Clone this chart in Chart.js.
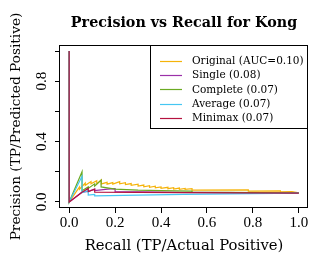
<!DOCTYPE html>
<html><head><meta charset="utf-8">
<script src="https://cdn.jsdelivr.net/npm/chart.js@4.4.1/dist/chart.umd.min.js"></script>
<style>html,body{margin:0;padding:0;background:#fff;}#wrap{width:310px;height:256px;}</style>
</head><body><div id="wrap"><canvas id="c" width="310" height="256"></canvas></div>
<script>
const titleText = 'Precision vs Recall for Kong';
const xLabel = 'Recall (TP/Actual Positive)';
const yLabel = 'Precision (TP/Predicted Positive)';
const xTicks = [0, 0.2, 0.4, 0.6, 0.8, 1.0];
const xTickLabels = ['0.0', '0.2', '0.4', '0.6', '0.8', '1.0'];
const yTicks = [0, 0.2, 0.4, 0.6, 0.8, 1.0];
const yTickLabels = ['0.0', '', '0.4', '', '0.8', ''];

const seriesNames = ['Original (AUC=0.10)', 'Single (0.08)', 'Complete (0.07)', 'Average (0.07)', 'Minimax (0.07)'];
const seriesColors = ['#F5B30A', '#9B30A8', '#6BAA22', '#45C6F2', '#B5123F'];

const originalRecall = [0, 0, 0.045, 0.045, 0.07, 0.07, 0.095, 0.095, 0.12, 0.12, 0.14, 0.14, 0.165, 0.165, 0.19, 0.19, 0.22, 0.22, 0.245, 0.245, 0.27, 0.27, 0.3, 0.3, 0.325, 0.325, 0.35, 0.35, 0.375, 0.375, 0.4, 0.4, 0.43, 0.43, 0.455, 0.455, 0.48, 0.48, 0.505, 0.505, 0.535, 0.535, 0.78, 0.78, 0.92, 0.92, 0.97, 1.0];
const originalPrecision = [1, 0, 0.10, 0.085, 0.125, 0.11, 0.135, 0.12, 0.14, 0.12, 0.147, 0.12, 0.13, 0.118, 0.128, 0.118, 0.135, 0.12, 0.128, 0.115, 0.122, 0.11, 0.118, 0.105, 0.112, 0.10, 0.108, 0.097, 0.104, 0.094, 0.10, 0.09, 0.097, 0.088, 0.094, 0.085, 0.092, 0.084, 0.09, 0.083, 0.088, 0.078, 0.08, 0.072, 0.074, 0.067, 0.068, 0.06];

const singleRecall = [0, 0, 0.056, 0.083, 0.111, 0.111, 0.139, 0.167, 0.2, 0.2, 0.5, 1.0];
const singlePrecision = [1, 0, 0.065, 0.07, 0.085, 0.075, 0.08, 0.085, 0.088, 0.068, 0.064, 0.06];

const completeRecall = [0, 0, 0.056, 0.056, 0.083, 0.083, 0.111, 0.111, 0.139, 0.139, 0.2, 0.3, 0.4, 0.535, 0.535, 1.0];
const completePrecision = [1, 0, 0.2, 0.075, 0.1, 0.09, 0.12, 0.105, 0.145, 0.1, 0.085, 0.078, 0.075, 0.072, 0.065, 0.06];

const averageRecall = [0, 0, 0.056, 0.056, 0.083, 0.083, 0.111, 0.111, 0.3, 0.5, 0.7, 1.0];
const averagePrecision = [1, 0, 0.17, 0.062, 0.075, 0.045, 0.05, 0.04, 0.045, 0.05, 0.053, 0.058];

const minimaxRecall = [0, 0, 0.056, 0.083, 0.083, 0.111, 0.111, 0.5, 1.0];
const minimaxPrecision = [1, 0, 0.065, 0.09, 0.068, 0.085, 0.065, 0.062, 0.058];

const recalls = [originalRecall, singleRecall, completeRecall, averageRecall, minimaxRecall];
const precisions = [originalPrecision, singlePrecision, completePrecision, averagePrecision, minimaxPrecision];

const datasets = seriesNames.map((name, i) => ({
  label: name,
  data: recalls[i].map((r, j) => ({x: r, y: precisions[i][j]})),
  showLine: true,
  borderColor: seriesColors[i],
  backgroundColor: seriesColors[i],
  borderWidth: 1.2,
  pointRadius: 0,
  fill: false,
  tension: 0,
  order: seriesNames.length - i
}));

const tickFont = {family: 'Liberation Serif', size: 15};
const xLabelFont = {family: 'DejaVu Serif', size: 14.8};
const yLabelFont = {family: 'DejaVu Serif', size: 13.7};

const overlay = {
  id: 'overlay',
  afterDraw(chart) {
    const ctx = chart.ctx;
    const a = chart.chartArea;
    ctx.save();
    ctx.strokeStyle = '#000';
    ctx.lineWidth = 1;
    ctx.strokeRect(Math.round(a.left) - 0.5, Math.round(a.top) + 0.5, Math.round(a.right) - Math.round(a.left), Math.round(a.bottom) - Math.round(a.top) - 1);
    const ys = chart.scales.y;
    ctx.fillStyle = '#000';
    ctx.font = tickFont.size + 'px "' + tickFont.family + '"';
    ctx.textAlign = 'center';
    ctx.textBaseline = 'middle';
    yTicks.forEach((v, i) => {
      if (!yTickLabels[i]) return;
      const py = ys.getPixelForValue(v);
      ctx.save();
      ctx.translate(42, py);
      ctx.rotate(-Math.PI / 2);
      ctx.fillText(yTickLabels[i], 0, 0);
      ctx.restore();
    });
    ctx.font = 'bold 14.3px "DejaVu Serif"';
    ctx.textBaseline = 'middle';
    ctx.fillText(titleText, (a.left + a.right) / 2, 23);
    const lx0 = 150, ly0 = Math.round(a.top), lx1 = Math.round(a.right), ly1 = 129;
    ctx.fillStyle = '#fff';
    ctx.fillRect(lx0, ly0, lx1 - lx0, ly1 - ly0);
    ctx.strokeStyle = '#000';
    ctx.strokeRect(lx0 + 0.5, ly0 + 0.5, lx1 - lx0 - 1, ly1 - ly0 - 1);
    ctx.font = '10.5px "DejaVu Serif"';
    ctx.textAlign = 'left';
    seriesNames.forEach((name, i) => {
      const y = 61 + i * 14.2;
      ctx.strokeStyle = seriesColors[i];
      ctx.lineWidth = 1.2;
      ctx.beginPath();
      ctx.moveTo(160, Math.round(y) + 0.5);
      ctx.lineTo(182, Math.round(y) + 0.5);
      ctx.stroke();
      ctx.fillStyle = '#000';
      ctx.fillText(name, 192, y + 0.5);
    });
    ctx.restore();
  }
};

new Chart(document.getElementById('c'), {
  type: 'scatter',
  data: {datasets},
  options: {
    responsive: false,
    animation: false,
    devicePixelRatio: 1,
    layout: {padding: {top: 45, right: 2, left: 0, bottom: 0}},
    plugins: {legend: {display: false}, title: {display: false}, tooltip: {enabled: false}},
    scales: {
      x: {
        type: 'linear', min: -0.04, max: 1.04,
        afterBuildTicks: s => { s.ticks = xTicks.map(v => ({value: v})); },
        afterFit: s => { s.height = 48; },
        ticks: {callback: (v, i) => xTickLabels[i], font: tickFont, color: '#000', padding: 1, maxRotation: 0, autoSkip: false},
        grid: {drawOnChartArea: false, drawTicks: true, tickLength: 5, color: '#000', lineWidth: 1},
        border: {display: false},
        title: {display: true, text: xLabel, font: xLabelFont, color: '#000', padding: {top: 0, bottom: 1}}
      },
      y: {
        type: 'linear', min: -0.04, max: 1.04,
        afterBuildTicks: s => { s.ticks = yTicks.map(v => ({value: v})); },
        afterFit: s => { s.width = 60; },
        ticks: {callback: () => '', font: tickFont, color: '#000', padding: 0},
        grid: {drawOnChartArea: false, drawTicks: true, tickLength: 5, color: '#000', lineWidth: 1},
        border: {display: false},
        title: {display: true, text: yLabel, font: yLabelFont, color: '#000', padding: {top: 8, bottom: 0}}
      }
    }
  },
  plugins: [overlay]
});
</script>
</body></html>
